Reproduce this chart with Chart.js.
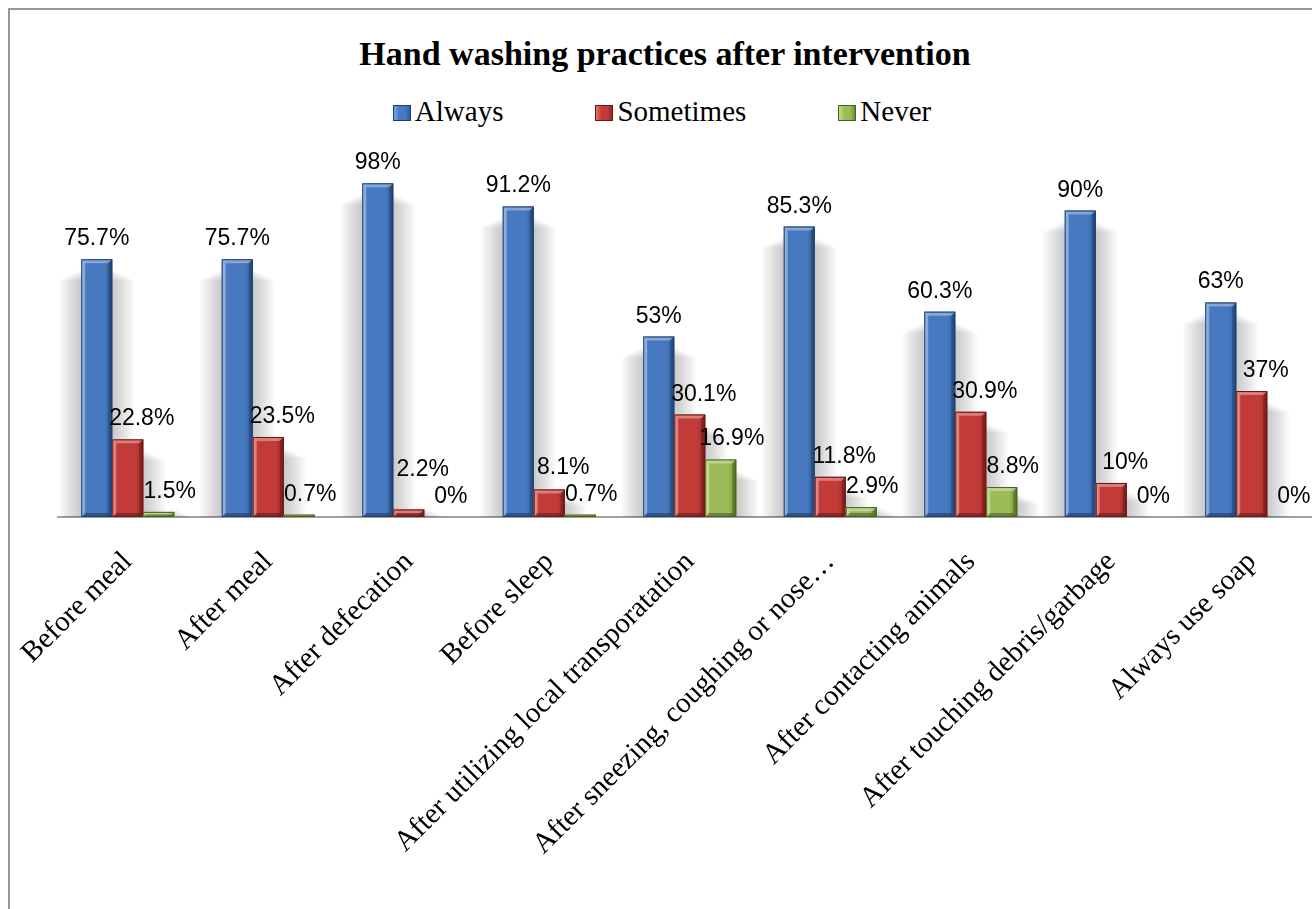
<!DOCTYPE html>
<html>
<head>
<meta charset="utf-8">
<title>Hand washing practices after intervention</title>
<script src="https://cdn.jsdelivr.net/npm/chart.js@4.4.1/dist/chart.umd.min.js"></script>
<style>
  html, body { margin: 0; padding: 0; background: #fff; overflow: hidden; width: 1312px; height: 909px; }
  #frame { position: absolute; left: 8px; top: 8px; width: 1400px; height: 1000px; border: 2px solid #979797; box-sizing: border-box; }
  #title { position: absolute; left: 9px; width: 1312px; top: 37px; text-align: center;
           font: bold 34px/34px "Liberation Serif", serif; color: #000; }
  #legend { position: absolute; left: 9px; width: 1306px; top: 97px; display: flex; justify-content: center; gap: 92px;
            font: 29px/29px "Liberation Serif", serif; color: #000; }
  #legend .item { white-space: nowrap; }
  #legend .box { display: inline-block; width: 18px; height: 16px; margin-right: 4px; box-sizing: border-box; }
  #chartWrap { position: absolute; left: 0; top: 0; width: 1330px; height: 909px; }
</style>
</head>
<body>
<div id="frame"></div>
<div id="title">Hand washing practices after intervention</div>
<div id="legend"></div>
<div id="chartWrap"><canvas id="chart" width="1330" height="909"></canvas></div>
<script>
// Dados do gráfico
const categories = [
  'Before meal',
  'After meal',
  'After defecation',
  'Before sleep',
  'After utilizing local transporatation',
  'After sneezing, coughing or nose…',
  'After contacting animals',
  'After touching debris/garbage',
  'Always use soap'
];
const seriesNames = ['Always', 'Sometimes', 'Never'];
const alwaysValues = [75.7, 75.7, 98, 91.2, 53, 85.3, 60.3, 90, 63];
const sometimesValues = [22.8, 23.5, 2.2, 8.1, 30.1, 11.8, 30.9, 10, 37];
const neverValues = [1.5, 0.7, 0, 0.7, 16.9, 2.9, 8.8, 0, 0];

// Cores (estilo Excel com bisel)
const palette = [
  { light: '#79a6e2', mid: '#4679bf', dark: '#2d5c9e', edge: '#1d3f6e' },
  { light: '#ea6f6c', mid: '#c23b38', dark: '#9b2623', edge: '#6e1614' },
  { light: '#c3db85', mid: '#9bbb59', dark: '#6e8c32', edge: '#4a621e' }
];
const labelShift = [0, 14, 11];

// Legenda em HTML
const legendEl = document.getElementById('legend');
seriesNames.forEach((name, i) => {
  const c = palette[i];
  const item = document.createElement('span');
  item.className = 'item';
  const box = document.createElement('span');
  box.className = 'box';
  box.style.background = `linear-gradient(90deg, ${c.light} 0%, ${c.mid} 35%, ${c.mid} 70%, ${c.dark} 100%)`;
  box.style.border = `1px solid ${c.edge}`;
  item.appendChild(box);
  item.appendChild(document.createTextNode(name));
  legendEl.appendChild(item);
});

function barGeom(el) {
  const p = el.getProps(['x', 'y', 'base', 'width'], true);
  const left = p.x - p.width / 2;
  const top = Math.min(p.y, p.base);
  const h = Math.abs(p.base - p.y);
  return { left, top, w: p.width, h, x: p.x };
}

// Sombra suave atrás das barras (camadas sobrepostas)
const shadowPlugin = {
  id: 'barShadow',
  beforeDatasetsDraw(chart) {
    const ctx = chart.ctx;
    ctx.save();
    ctx.fillStyle = 'rgba(0,0,0,0.028)';
    chart.data.datasets.forEach((ds, di) => {
      chart.getDatasetMeta(di).data.forEach(el => {
        const g = barGeom(el);
        if (g.h < 4) return;
        const drop = Math.min(16, g.h * 0.4);
        for (let k = 1; k <= 9; k++) {
          const spread = k * 2.4;
          const top = g.top + drop - 6 + k * 1.2;
          const bottom = g.top + g.h;
          if (bottom - top <= 0) continue;
          ctx.fillRect(g.left - spread, top, g.w + spread * 2, bottom - top);
        }
      });
    });
    ctx.restore();
  }
};

// Bisel, gradiente e rótulos de dados
const bevelPlugin = {
  id: 'bevelBars',
  afterDatasetsDraw(chart) {
    const ctx = chart.ctx;
    ctx.save();
    chart.data.datasets.forEach((ds, di) => {
      const c = palette[di];
      chart.getDatasetMeta(di).data.forEach(el => {
        const g = barGeom(el);
        if (g.h < 0.5) return;
        const grad = ctx.createLinearGradient(g.left, 0, g.left + g.w, 0);
        grad.addColorStop(0, c.light);
        grad.addColorStop(0.15, c.mid);
        grad.addColorStop(0.75, c.mid);
        grad.addColorStop(1, c.dark);
        ctx.fillStyle = grad;
        ctx.fillRect(g.left, g.top, g.w, g.h);
        const b = Math.min(4, g.h / 2);
        const L = g.left, T = g.top, R = g.left + g.w, B = g.top + g.h;
        // topo claro
        ctx.fillStyle = 'rgba(255,255,255,0.35)';
        ctx.beginPath();
        ctx.moveTo(L, T); ctx.lineTo(R, T); ctx.lineTo(R - b, T + b); ctx.lineTo(L + b, T + b); ctx.closePath(); ctx.fill();
        // lado esquerdo claro
        ctx.fillStyle = 'rgba(255,255,255,0.28)';
        ctx.beginPath();
        ctx.moveTo(L, T); ctx.lineTo(L + b, T + b); ctx.lineTo(L + b, B - b); ctx.lineTo(L, B); ctx.closePath(); ctx.fill();
        // lado direito escuro
        ctx.fillStyle = 'rgba(0,0,0,0.22)';
        ctx.beginPath();
        ctx.moveTo(R, T); ctx.lineTo(R, B); ctx.lineTo(R - b, B - b); ctx.lineTo(R - b, T + b); ctx.closePath(); ctx.fill();
        // base escura
        ctx.fillStyle = 'rgba(0,0,0,0.30)';
        ctx.beginPath();
        ctx.moveTo(L, B); ctx.lineTo(R, B); ctx.lineTo(R - b, B - b); ctx.lineTo(L + b, B - b); ctx.closePath(); ctx.fill();
        ctx.strokeStyle = c.edge;
        ctx.lineWidth = 1;
        ctx.strokeRect(L + 0.5, T + 0.5, g.w - 1, g.h - 1);
      });
    });

    // rótulos: calculados da última série para a primeira, subindo se colidirem
    ctx.fillStyle = '#000';
    ctx.font = '23px "Liberation Sans", Arial, sans-serif';
    ctx.textAlign = 'center';
    ctx.textBaseline = 'alphabetic';
    const textH = 17;
    const nSeries = chart.data.datasets.length;
    categories.forEach((cat, i) => {
      let next = null;
      for (let di = nSeries - 1; di >= 0; di--) {
        const ds = chart.data.datasets[di];
        const el = chart.getDatasetMeta(di).data[i];
        const g = barGeom(el);
        const text = ds.data[i] + '%';
        const w = ctx.measureText(text).width;
        const cx = g.x + labelShift[di];
        let y = g.top - 14;
        if (next && cx + w / 2 > next.left && y > next.top - 10) {
          y = next.top - 10;
        }
        ctx.fillText(text, cx, y);
        next = { left: cx - w / 2, top: y - textH };
      }
    });
    ctx.restore();
  }
};

const seriesValues = [alwaysValues, sometimesValues, neverValues];

new Chart(document.getElementById('chart'), {
  type: 'bar',
  data: {
    labels: categories,
    datasets: seriesNames.map((name, i) => ({
      label: name,
      data: seriesValues[i],
      backgroundColor: palette[i].mid,
      borderWidth: 0,
      categoryPercentage: 0.662,
      barPercentage: 1
    }))
  },
  options: {
    responsive: false,
    animation: false,
    layout: { padding: { left: 57.5, right: 8, top: 176.5, bottom: 0 } },
    plugins: {
      legend: { display: false },
      title: { display: false },
      tooltip: { enabled: false }
    },
    scales: {
      y: { display: false, min: 0, max: 100 },
      x: {
        grid: { display: false },
        border: { display: true, color: '#a0a0a0', width: 2 },
        ticks: {
          autoSkip: false,
          minRotation: 45,
          maxRotation: 45,
          padding: 20,
          color: '#000',
          font: { family: '"Liberation Serif", serif', size: 29 }
        },
        afterFit(scale) { scale.height = 392; }
      }
    }
  },
  plugins: [shadowPlugin, bevelPlugin]
});
</script>
</body>
</html>
